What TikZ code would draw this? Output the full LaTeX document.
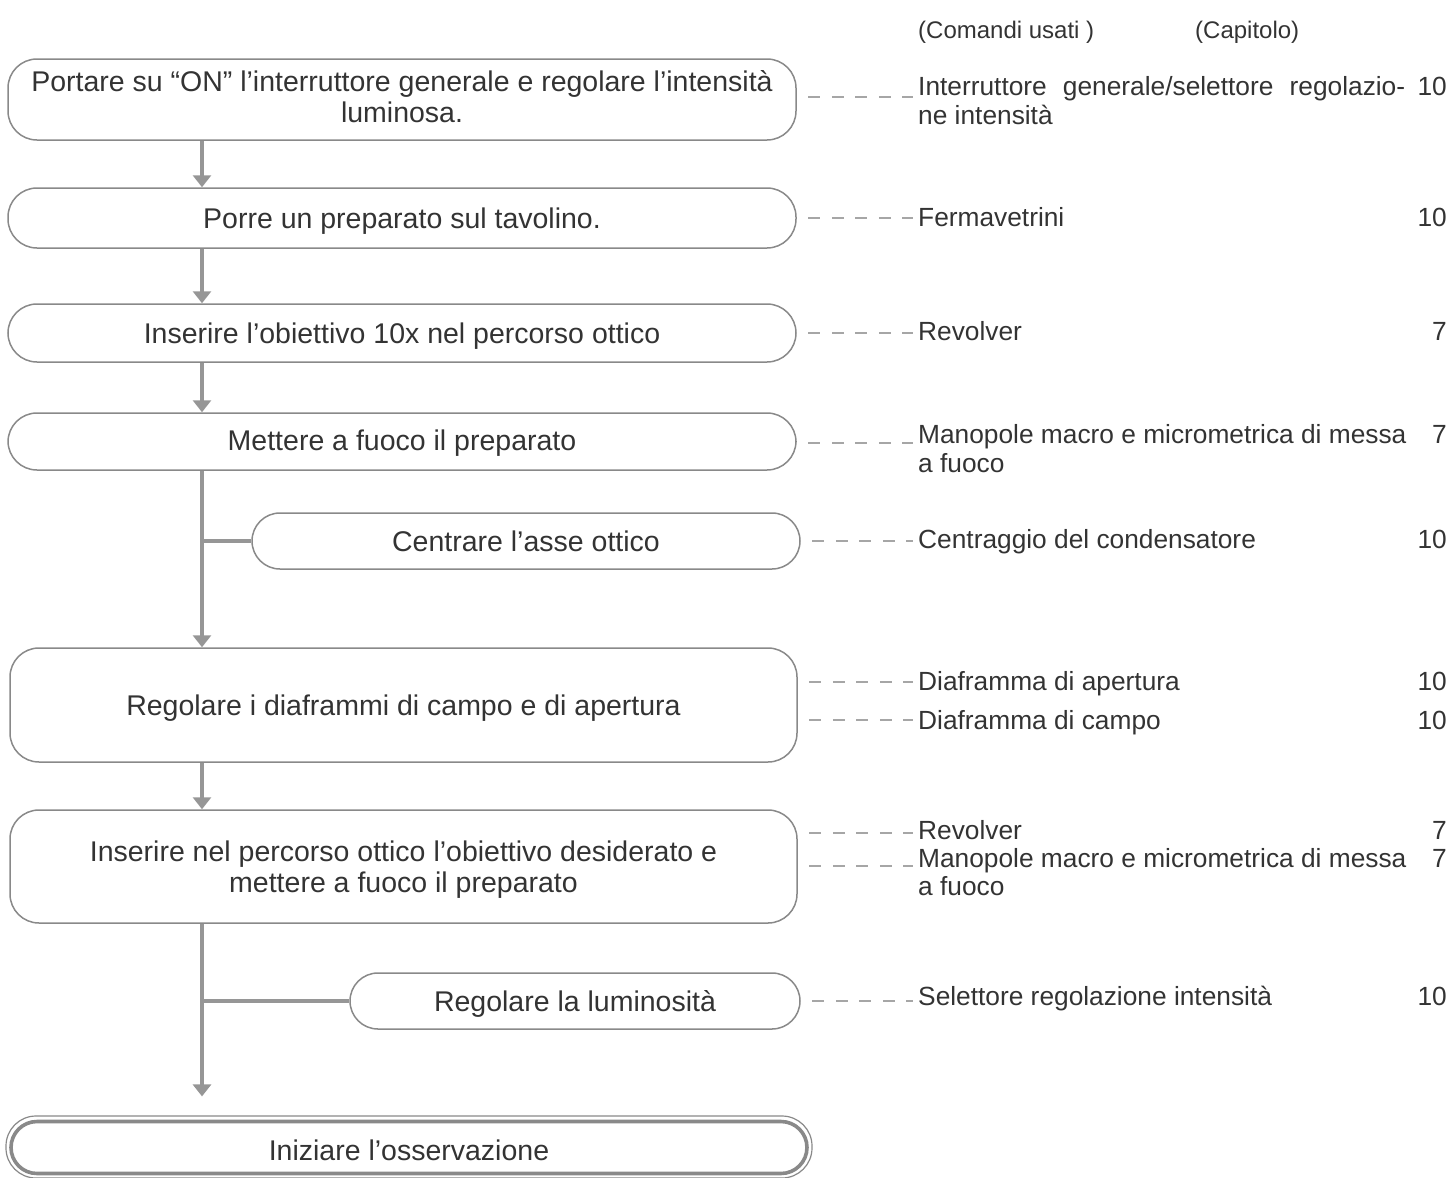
\documentclass[tikz,border=0pt]{standalone}
\usepackage{fontspec}
\setmainfont{Liberation Sans}
\usetikzlibrary{arrows.meta,calc}
\definecolor{boxgray}{HTML}{898989}
\definecolor{linegray}{HTML}{969696}
\definecolor{dashgray}{HTML}{A6A6A6}
\definecolor{txt}{HTML}{333333}
\newcommand\mainfs{\fontsize{28.5}{31}\selectfont}
\newcommand\cmdfs{\fontsize{26.3}{29}\selectfont}
\newcommand\headfs{\fontsize{24}{28}\selectfont}
\newcommand\shiftbox[2]{\raisebox{#1}[\height][\depth]{\begin{tabular}{@{}c@{}}#2\end{tabular}}}
\tikzset{
  stepbox/.style={draw=boxgray, line width=1.5pt, rounded corners=29pt, inner sep=0pt,
    align=center, font=\mainfs, text=txt},
  flow/.style={draw=linegray, line width=3.2pt},
  flowarrow/.style={flow, -{Triangle[width=18pt,length=12pt]}},
  dashlink/.style={draw=dashgray, line width=2.8pt, dash pattern=on 12pt off 11.5pt, dash phase=12pt},
  cmd/.style={anchor=base west, inner sep=0pt, font=\cmdfs, text=txt},
  chap/.style={anchor=base east, inner sep=0pt, font=\cmdfs, text=txt},
  head/.style={anchor=base west, inner sep=0pt, font=\headfs, text=txt}
}
\begin{document}
\begin{tikzpicture}[x=1pt,y=-1pt]
\useasboundingbox (0,0) rectangle (1454,1178);
\coordinate (spine) at (202,0);

% headers
\node[head] (h1) at (918,38.5) {(Comandi usati )};
\node[head] (h2) at (1195,38.5) {(Capitolo)};

% step boxes
\node[stepbox, minimum width=788pt, minimum height=81pt] (b1) at (402,99.5)
  {\shiftbox{-1.5pt}{Portare su “ON” l’interruttore generale e regolare l’intensità\\luminosa.}};
\node[stepbox, minimum width=788pt, minimum height=60pt] (b2) at (402,218)
  {\shiftbox{-4pt}{Porre un preparato sul tavolino.}};
\node[stepbox, minimum width=788pt, minimum height=58pt] (b3) at (402,333)
  {\shiftbox{-4pt}{Inserire l’obiettivo 10x nel percorso ottico}};
\node[stepbox, minimum width=788pt, minimum height=57pt] (b4) at (402,441.5)
  {\shiftbox{-3pt}{Mettere a fuoco il preparato}};
\node[stepbox, rounded corners=28pt, minimum width=548pt, minimum height=56pt] (b5) at (526,541)
  {\shiftbox{-4pt}{Centrare l’asse ottico}};
\node[stepbox, minimum width=787pt, minimum height=114pt] (b6) at (403.5,705)
  {\shiftbox{-4pt}{Regolare i diaframmi di campo e di apertura}};
\node[stepbox, minimum width=787pt, minimum height=113pt] (b7) at (403.5,866.5)
  {\shiftbox{-4.5pt}{Inserire nel percorso ottico l’obiettivo desiderato e\\mettere a fuoco il preparato}};
\node[stepbox, rounded corners=28pt, minimum width=450pt, minimum height=56pt] (b8) at (575,1001)
  {\shiftbox{-4pt}{Regolare la luminosità}};
\node[draw=boxgray, line width=1.2pt, rounded corners=30pt, inner sep=0pt,
  minimum width=806pt, minimum height=62pt] (b9o) at (409,1147) {};
\node[stepbox, line width=3.6pt, rounded corners=26pt, minimum width=796pt, minimum height=52pt] (b9) at (409,1147.5)
  {\shiftbox{-7pt}{Iniziare l’osservazione}};

% flow connectors
\draw[flowarrow] (spine |- b1.south) -- (spine |- b2.north);
\draw[flowarrow] (spine |- b2.south) -- (spine |- b3.north);
\draw[flowarrow] (spine |- b3.south) -- (spine |- b4.north);
\draw[flowarrow] (spine |- b4.south) -- (spine |- b6.north);
\draw[flow] (spine |- b5.west) -- (b5.west);
\draw[flowarrow] (spine |- b6.south) -- (spine |- b7.north);
\draw[flowarrow, shorten >=19pt] (spine |- b7.south) -- (spine |- b9o.north);
\draw[flow] (spine |- b8.west) -- (b8.west);

% dashed link end points
\coordinate (d1) at (913,97);
\coordinate (d2) at (913,218);
\coordinate (d3) at (913,333);
\coordinate (d4) at (913,443);
\coordinate (d5) at (913,541);
\coordinate (d6a) at (913,682);
\coordinate (d6b) at (913,720);
\coordinate (d7a) at (913,833);
\coordinate (d7b) at (913,866);
\coordinate (d8) at (913,1001);

\draw[dashlink] (b1.east |- d1) -- (d1);
\draw[dashlink] (b2.east |- d2) -- (d2);
\draw[dashlink] (b3.east |- d3) -- (d3);
\draw[dashlink] (b4.east |- d4) -- (d4);
\draw[dashlink] (b5.east |- d5) -- (d5);
\draw[dashlink] (b6.east |- d6a) -- (d6a);
\draw[dashlink] (b6.east |- d6b) -- (d6b);
\draw[dashlink] (b7.east |- d7a) -- (d7a);
\draw[dashlink] (b7.east |- d7b) -- (d7b);
\draw[dashlink] (b8.east |- d8) -- (d8);

% commands
\node[cmd] (c1) at (918,95) {\makebox[487pt][s]{Interruttore generale/selettore regolazio-}};
\node[cmd] (c1b) at (918,124) {ne intensità};
\node[cmd] (c2) at (918,226) {Fermavetrini};
\node[cmd] (c3) at (918,340) {Revolver};
\node[cmd] (c4) at (918,443) {Manopole macro e micrometrica di messa};
\node[cmd] (c4b) at (918,472) {a fuoco};
\node[cmd] (c5) at (918,548) {Centraggio del condensatore};
\node[cmd] (c6a) at (918,690) {Diaframma di apertura};
\node[cmd] (c6b) at (918,729) {Diaframma di campo};
\node[cmd] (c7a) at (918,839) {Revolver};
\node[cmd] (c7b) at (918,867) {Manopole macro e micrometrica di messa};
\node[cmd] (c7c) at (918,895) {a fuoco};
\node[cmd] (c8) at (918,1005) {Selettore regolazione intensità};

% chapters
\node[chap] (n1) at (1447,95) {10};
\node[chap] (n2) at (1447,226) {10};
\node[chap] (n3) at (1447,340) {7};
\node[chap] (n4) at (1447,443) {7};
\node[chap] (n5) at (1447,548) {10};
\node[chap] (n6a) at (1447,690) {10};
\node[chap] (n6b) at (1447,729) {10};
\node[chap] (n7a) at (1447,839) {7};
\node[chap] (n7b) at (1447,867) {7};
\node[chap] (n8) at (1447,1005) {10};
\end{tikzpicture}
\end{document}
